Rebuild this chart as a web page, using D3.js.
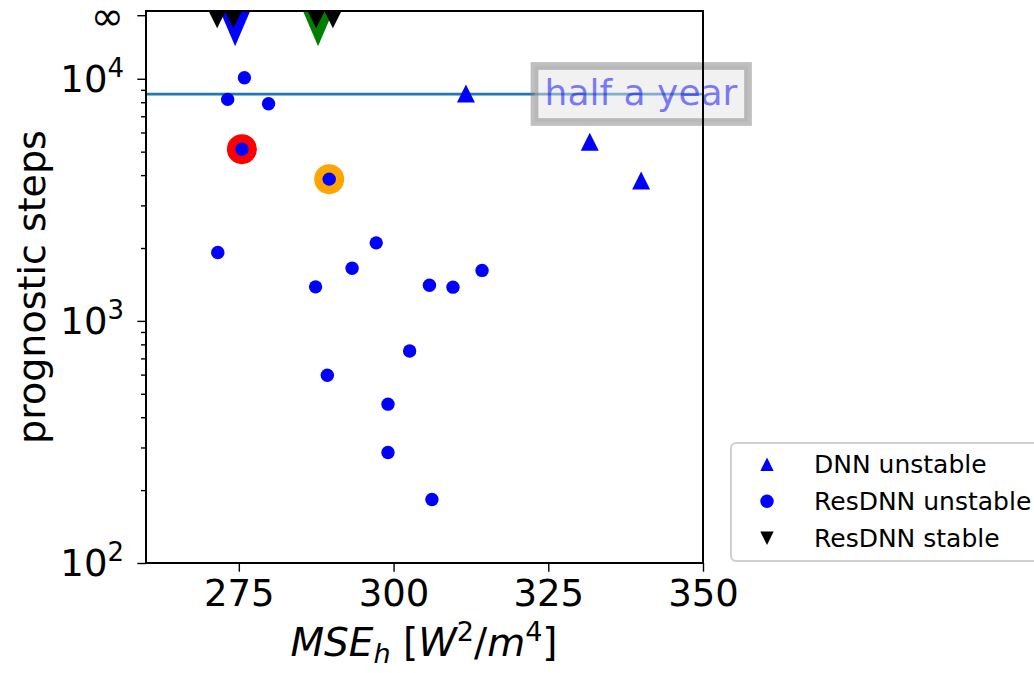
<!DOCTYPE html>
<html>
<head>
<meta charset="utf-8">
<script src="https://cdn.jsdelivr.net/npm/d3@7/dist/d3.min.js"></script>
<style>
  body { margin: 0; background: #fff; }
  text { font-family: "DejaVu Sans", sans-serif; }
</style>
</head>
<body>
<svg id="chart" width="1034" height="673"></svg>
<script>
// axis ranges and ticks
const xDomain = [260, 350];
const yDomain = [100, 19050];
const xTicks = [275, 300, 325, 350];
const yTicks = [100, 1000, 10000];
const yTickExp = [2, 3, 4];
const infTick = 18300;
const halfYear = 8640;

// DNN unstable (triangles up)
const dnnX = [311.7, 331.7, 340.0];
const dnnY = [8690, 5490, 3800];

// ResDNN unstable (circles)
const resX = [275.9, 273.2, 279.8, 275.5, 289.6, 271.6, 297.2, 293.3, 287.4, 305.8, 309.6, 314.3, 302.6, 289.3, 299.1, 299.1, 306.2];
const resY = [10100, 8220, 7880, 5120, 3850, 1917, 2100, 1650, 1382, 1404, 1378, 1616, 751, 596, 453, 286, 183];

// ResDNN stable (triangles down at infinity)
const stableX = [271.5, 274.1, 287.5, 290.2];
const stableY = 17800;

// highlighted models
const hlStable = [{ x: 274.4, c: 'blue' }, { x: 287.8, c: 'green' }];
const hlUnstable = [{ x: 275.5, y: 5120, c: 'red' }, { x: 289.6, y: 3850, c: 'orange' }];

const svg = d3.select('#chart');
const margin = { left: 146, right: 703, top: 11, bottom: 563 };

const x = d3.scaleLinear().domain(xDomain).range([margin.left, margin.right]);
const y = d3.scaleLog().domain(yDomain).range([margin.bottom, margin.top]);

svg.append('defs').append('clipPath').attr('id', 'plot')
  .append('rect')
  .attr('x', margin.left).attr('y', margin.top)
  .attr('width', margin.right - margin.left).attr('height', margin.bottom - margin.top);

const tri = (cx, cy, w, h, up) => up
  ? `M${cx},${cy - h}L${cx + w},${cy + h}L${cx - w},${cy + h}Z`
  : `M${cx},${cy + h}L${cx + w},${cy - h}L${cx - w},${cy - h}Z`;

// half a year line
svg.append('line')
  .attr('x1', margin.left).attr('x2', margin.right)
  .attr('y1', y(halfYear)).attr('y2', y(halfYear))
  .attr('stroke', '#1f77b4').attr('stroke-width', 2.7);

const g = svg.append('g').attr('clip-path', 'url(#plot)');

// highlight markers underneath
g.selectAll('path.hls').data(hlStable).enter().append('path')
  .attr('d', d => tri(x(d.x), y(stableY), 24, 28, false))
  .attr('fill', d => d.c);
g.selectAll('circle.hlu').data(hlUnstable).enter().append('circle')
  .attr('cx', d => x(d.x)).attr('cy', d => y(d.y)).attr('r', 15)
  .attr('fill', d => d.c);

g.selectAll('path.stable').data(stableX).enter().append('path')
  .attr('d', d => tri(x(d), y(stableY), 10, 10, false))
  .attr('fill', 'black');

g.selectAll('circle.res').data(resX).enter().append('circle')
  .attr('cx', d => x(d)).attr('cy', (d, i) => y(resY[i])).attr('r', 6.7)
  .attr('fill', 'blue');

g.selectAll('path.dnn').data(dnnX).enter().append('path')
  .attr('d', (d, i) => tri(x(d), y(dnnY[i]), 9, 9, true))
  .attr('fill', 'blue');

// half a year label box
const box = svg.append('g');
box.append('rect')
  .attr('x', 534.5).attr('y', 66).attr('width', 213.5).attr('height', 56)
  .attr('fill', '#e4e4e4').attr('fill-opacity', 0.5)
  .attr('stroke', '#808080').attr('stroke-opacity', 0.5).attr('stroke-width', 7.7);
box.append('text')
  .attr('x', 641).attr('y', 105).attr('text-anchor', 'middle')
  .attr('font-size', 36).attr('fill', 'blue').attr('fill-opacity', 0.5)
  .text('half a year');

// axes
const xAxis = svg.append('g').attr('transform', `translate(0,${margin.bottom})`)
  .call(d3.axisBottom(x).tickValues(xTicks).tickSize(8.7).tickPadding(8).tickFormat(d3.format('d')));
xAxis.selectAll('text').attr('font-size', 37).attr('fill', 'black').attr('font-family', '"DejaVu Sans", sans-serif');

const minor = [];
[100, 1000].forEach(b => { for (let k = 2; k <= 9; k++) minor.push(b * k); });
svg.append('g').attr('transform', `translate(${margin.left},0)`)
  .call(d3.axisLeft(y).tickValues(minor).tickSize(5).tickFormat(''))
  .call(a => a.select('.domain').remove());

const yAxis = svg.append('g').attr('transform', `translate(${margin.left},0)`)
  .call(d3.axisLeft(y).tickValues(yTicks.concat([infTick])).tickSize(8.7).tickFormat(''));

[xAxis, yAxis].forEach(a => a.select('.domain').remove());
svg.selectAll('.tick line').attr('stroke', 'black').attr('stroke-width', 1.4);

// y tick labels
yTicks.forEach((v, i) => {
  const t = svg.append('text').attr('x', 124).attr('y', y(v) + 13).attr('text-anchor', 'end')
    .attr('font-size', 37);
  t.append('tspan').text('10');
  t.append('tspan').attr('font-size', 26).attr('dy', -15).text(yTickExp[i]);
});
svg.append('text').attr('x', 124).attr('y', y(infTick) + 15).attr('text-anchor', 'end')
  .attr('font-size', 40).text('∞');

// frame
svg.append('rect')
  .attr('x', margin.left).attr('y', margin.top)
  .attr('width', margin.right - margin.left).attr('height', margin.bottom - margin.top)
  .attr('fill', 'none').attr('stroke', 'black').attr('stroke-width', 2);

// axis labels
const xl = svg.append('text').attr('x', 424).attr('y', 656).attr('text-anchor', 'middle')
  .attr('font-size', 39);
xl.append('tspan').attr('font-style', 'italic').text('MSE');
xl.append('tspan').attr('font-style', 'italic').attr('font-size', 27).attr('dy', 7).text('h');
xl.append('tspan').attr('dy', -7).text(' [');
xl.append('tspan').attr('font-style', 'italic').text('W');
xl.append('tspan').attr('font-size', 27).attr('dy', -15).text('2');
xl.append('tspan').attr('dy', 15).text('/');
xl.append('tspan').attr('font-style', 'italic').text('m');
xl.append('tspan').attr('font-size', 27).attr('dy', -15).text('4');
xl.append('tspan').attr('dy', 15).text(']');

svg.append('text')
  .attr('transform', `translate(45,${(margin.top + margin.bottom) / 2}) rotate(-90)`)
  .attr('text-anchor', 'middle').attr('font-size', 38)
  .text('prognostic steps');

// legend
const legend = [
  { label: 'DNN unstable', shape: 'up' },
  { label: 'ResDNN unstable', shape: 'circle' },
  { label: 'ResDNN stable', shape: 'down' }
];
const lg = svg.append('g');
lg.append('rect').attr('x', 731).attr('y', 443).attr('width', 330).attr('height', 118).attr('rx', 5)
  .attr('fill', 'white').attr('stroke', '#d0d0d0').attr('stroke-width', 2);
legend.forEach((d, i) => {
  const cy = 464.3 + i * 37;
  if (d.shape === 'circle') {
    lg.append('circle').attr('cx', 767).attr('cy', cy).attr('r', 6.7).attr('fill', 'blue');
  } else {
    lg.append('path').attr('d', tri(767, cy, 6.7, 6.7, d.shape === 'up'))
      .attr('fill', d.shape === 'up' ? 'blue' : 'black');
  }
  lg.append('text').attr('x', 814).attr('y', cy + 9).attr('font-size', 25).text(d.label);
});
</script>
</body>
</html>
